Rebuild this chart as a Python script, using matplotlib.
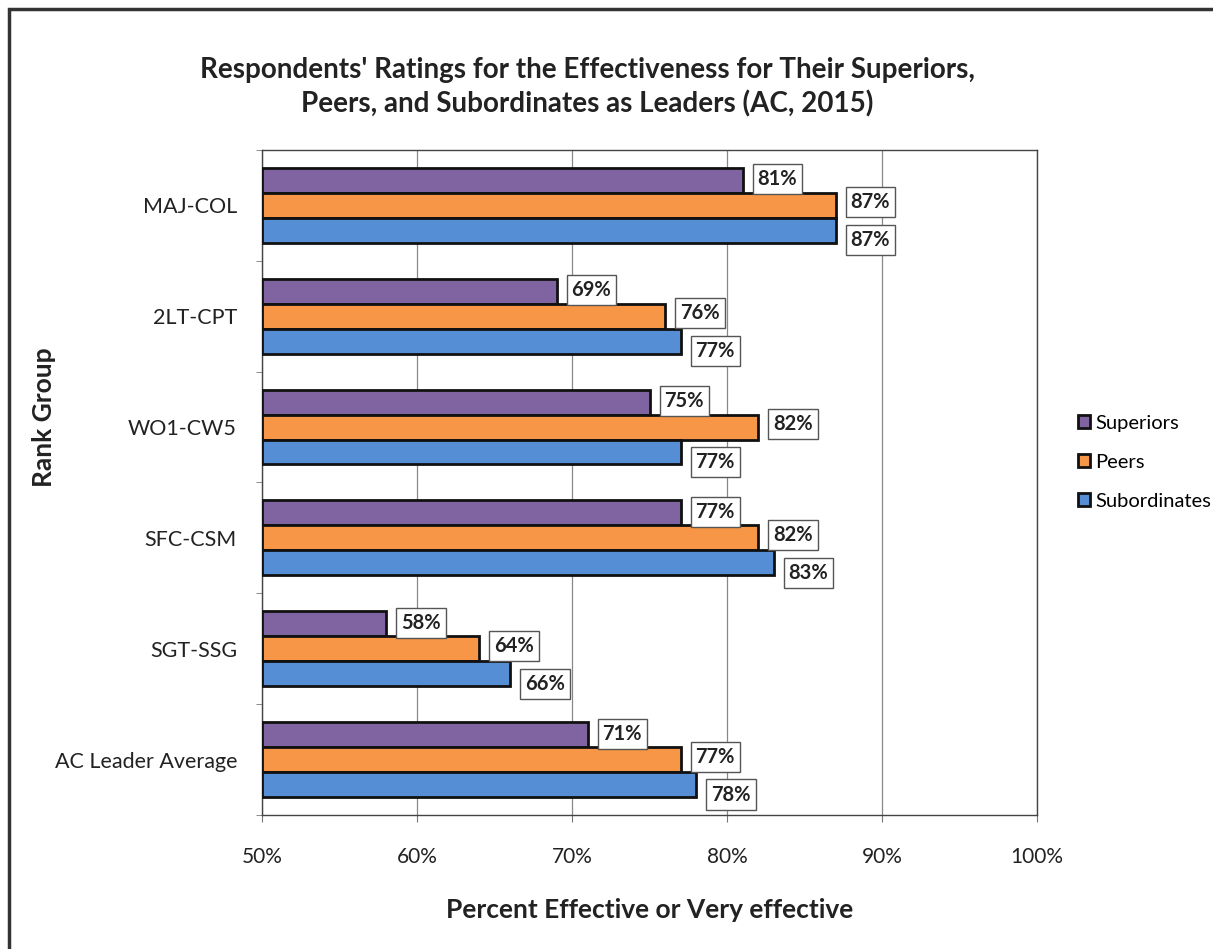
import numpy as np
import matplotlib
matplotlib.use("Agg")
import matplotlib.pyplot as plt
from matplotlib.patches import Rectangle

plt.rcParams['font.family'] = ['Lato', 'DejaVu Sans']

# data
groups = ["MAJ-COL", "2LT-CPT", "WO1-CW5", "SFC-CSM", "SGT-SSG", "AC Leader Average"]
superiors = [81, 69, 75, 77, 58, 71]
peers = [87, 76, 82, 82, 64, 77]
subordinates = [87, 77, 77, 83, 66, 78]
series_names = ["Superiors", "Peers", "Subordinates"]
colors = ["#8064A2", "#F79646", "#558ED5"]
x_ticks = [50, 60, 70, 80, 90, 100]


def main():
    fig = plt.figure(figsize=(12.13, 9.49), dpi=100)
    ax = fig.add_axes([0.216, 0.1412, 0.639, 0.7008])

    y = np.arange(len(groups))
    h = 0.225
    series = [superiors, peers, subordinates]
    # vertical nudge of the value boxes so they don't collide
    nudge = [1, 3, -10]
    for i, vals in enumerate(series):
        pos = y + (i - 1) * h
        ax.barh(pos, np.array(vals) - 50, left=50, height=h, color=colors[i],
                edgecolor="#111111", linewidth=2, label=series_names[i], zorder=3)
        for p, v in zip(pos, vals):
            ax.annotate(f"{v}%", xy=(v, p), xytext=(15, nudge[i]), textcoords="offset pixels",
                        ha="left", va="center", fontsize=14.5, fontweight="bold", color="#222222",
                        bbox=dict(boxstyle="square,pad=0.25", facecolor="white",
                                  edgecolor="#555555", linewidth=1), zorder=4)

    ax.set_xlim(50, 100)
    ax.set_ylim(len(groups) - 0.5, -0.5)
    ax.set_xticks(x_ticks)
    ax.set_xticklabels([f"{t}%" for t in x_ticks], fontsize=15, color="#222222")
    ax.set_yticks(y)
    ax.set_yticklabels(groups, fontsize=15.5, color="#222222")
    ax.set_yticks(np.arange(len(groups) + 1) - 0.5, minor=True)
    ax.tick_params(axis="y", which="major", length=0, pad=18)
    ax.tick_params(axis="y", which="minor", length=4, color="#777777")
    ax.tick_params(axis="x", length=5, color="#777777", pad=18)
    ax.grid(axis="x", color="#888888", linewidth=0.9, zorder=0)
    for s in ax.spines.values():
        s.set_color("#444444")
        s.set_linewidth(1)

    ax.set_xlabel("Percent Effective or Very effective", fontsize=19, fontweight="bold",
                  labelpad=22, color="#222222")
    fig.text(0.036, 0.56, "Rank Group", rotation=90, fontsize=19, fontweight="bold",
             ha="center", va="center", color="#222222")

    fig.text(0.484, 0.908, "Respondents' Ratings for the Effectiveness for Their Superiors,\n"
             "Peers, and Subordinates as Leaders (AC, 2015)", ha="center", va="center",
             fontsize=20, fontweight="bold", linespacing=1.35, color="#222222")

    handles, labels = ax.get_legend_handles_labels()
    leg = fig.legend(handles, labels, loc="center left", bbox_to_anchor=(0.874, 0.513),
                     frameon=False, fontsize=14.5, handlelength=0.6, handleheight=0.6,
                     handletextpad=0.25, labelspacing=1.1)

    # outer frame
    fig.patches.append(Rectangle((0.0074, -0.1), 1.2, 1.0905, transform=fig.transFigure,
                                 fill=False, edgecolor="#333333", linewidth=2.5))

    fig.savefig("out.png", dpi=100)


if __name__ == "__main__":
    main()
